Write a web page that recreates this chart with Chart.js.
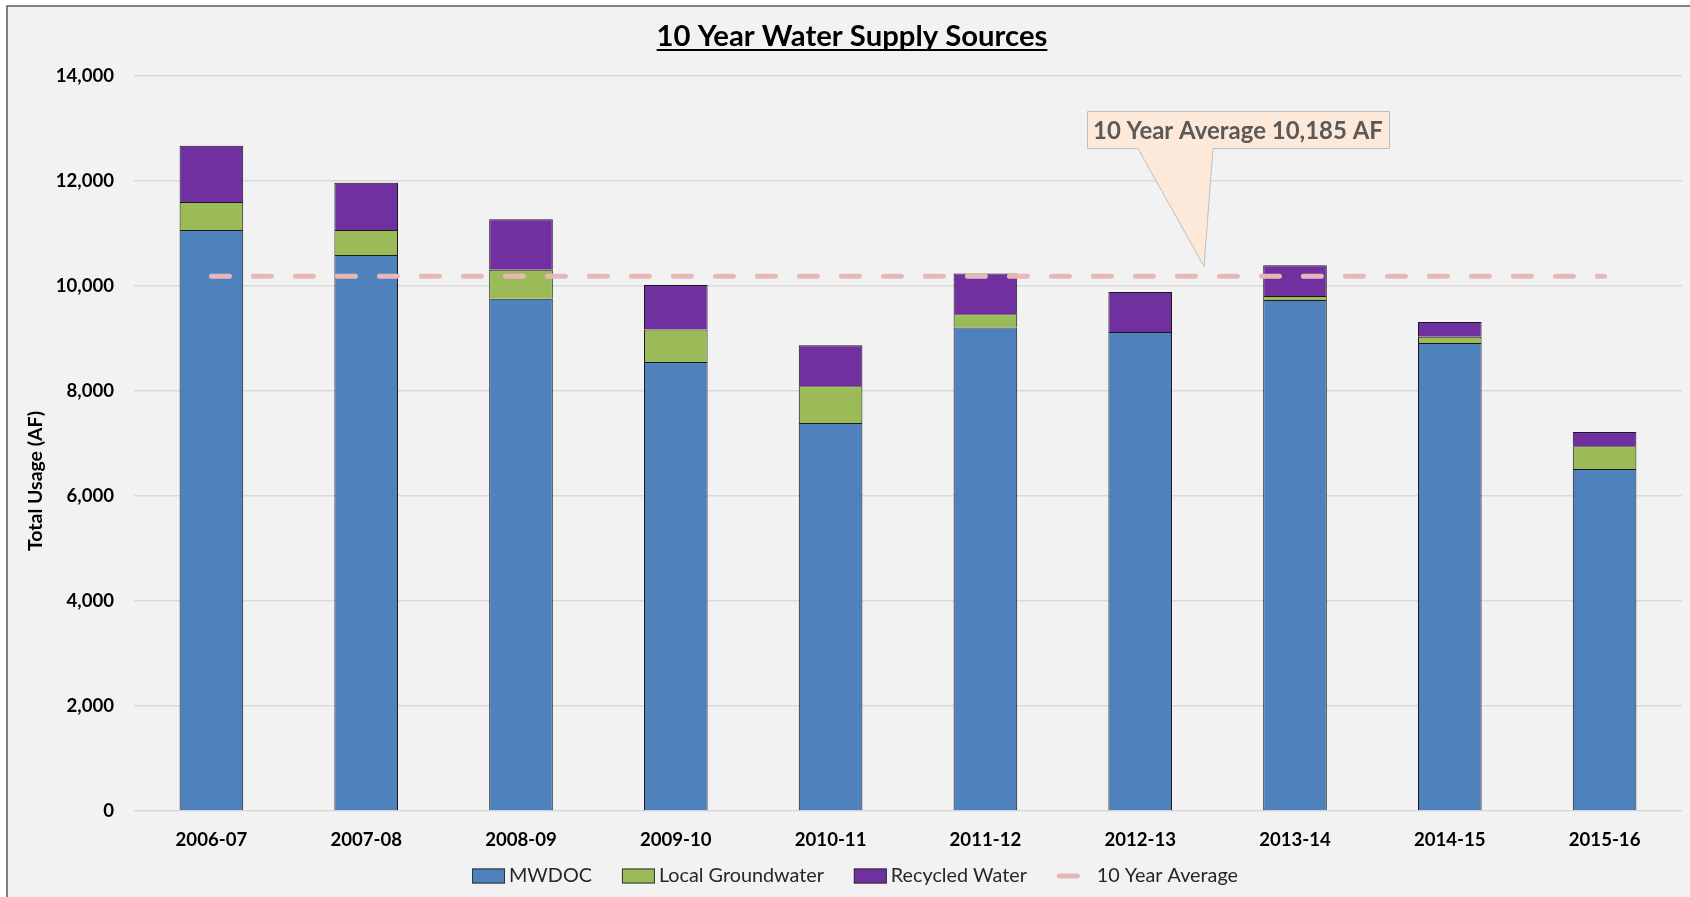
<!DOCTYPE html>
<html>
<head>
<meta charset="utf-8">
<script src="https://cdn.jsdelivr.net/npm/chart.js@4.4.0/dist/chart.umd.min.js"></script>
<style>
html, body { margin: 0; padding: 0; background: #ffffff; }
#wrap { position: absolute; left: 0; top: 0; width: 1690px; height: 897px; }
canvas { display: block; }
</style>
</head>
<body>
<div id="wrap"><canvas id="c" width="1690" height="897"></canvas></div>
<script>
// ---- data ----
const categories = ['2006-07', '2007-08', '2008-09', '2009-10', '2010-11', '2011-12', '2012-13', '2013-14', '2014-15', '2015-16'];
const mwdoc = [11067, 10590, 9757, 8551, 7392, 9209, 9122, 9733, 8914, 6514];
const localGroundwater = [533, 477, 554, 620, 697, 253, 0, 77, 121, 432];
const recycledWater = [1073, 901, 959, 848, 784, 778, 762, 584, 279, 273];
const tenYearAverage = [10185, 10185, 10185, 10185, 10185, 10185, 10185, 10185, 10185, 10185];
const yTickValues = [0, 2000, 4000, 6000, 8000, 10000, 12000, 14000];
const chartTitle = '10 Year Water Supply Sources';
const yAxisTitle = 'Total Usage (AF)';
const calloutText = '10 Year Average 10,185 AF';

const FONT = 'Lato, "Open Sans", "DejaVu Sans", sans-serif';
const COLORS = { mwdoc: '#4F81BD', gw: '#9BBB59', rw: '#7030A0', avg: '#E6B9B8' };

function fitSize(c, text, weight, target) {
  c.font = weight + ' 100px ' + FONT;
  return 100 * target / c.measureText(text).width;
}

const bgPlugin = {
  id: 'bg',
  beforeDraw(chart) {
    const c = chart.ctx;
    c.save();
    c.fillStyle = '#ffffff';
    c.fillRect(0, 0, chart.width, chart.height);
    c.fillStyle = '#F2F2F2';
    c.fillRect(7, 6, chart.width - 7, chart.height - 6);
    c.strokeStyle = '#595959';
    c.lineWidth = 1.5;
    c.beginPath();
    c.moveTo(7, chart.height);
    c.lineTo(7, 6);
    c.lineTo(chart.width, 6);
    c.stroke();
    c.restore();
  }
};

const decorPlugin = {
  id: 'decor',
  afterDraw(chart) {
    const c = chart.ctx;
    c.save();
    // Title
    const ts = fitSize(c, chartTitle, 'bold', 391);
    c.font = 'bold ' + ts + 'px ' + FONT;
    c.fillStyle = '#000000';
    c.textAlign = 'center';
    c.textBaseline = 'alphabetic';
    const tx = 852, ty = 46;
    c.fillText(chartTitle, tx, ty);
    const tw = c.measureText(chartTitle).width;
    c.fillRect(tx - tw / 2, ty + 3, tw, 2);

    // Y axis title
    c.save();
    c.translate(36, 481);
    c.rotate(-Math.PI / 2);
    const ys = fitSize(c, yAxisTitle, 'bold', 140);
    c.font = 'bold ' + ys + 'px ' + FONT;
    c.fillStyle = '#000000';
    c.textAlign = 'center';
    c.textBaseline = 'middle';
    c.fillText(yAxisTitle, 0, 0);
    c.restore();

    // Callout
    c.beginPath();
    c.moveTo(1087.5, 111.5);
    c.lineTo(1389.5, 111.5);
    c.lineTo(1389.5, 148.5);
    c.lineTo(1213, 148.5);
    c.lineTo(1204, 266.5);
    c.lineTo(1138, 148.5);
    c.lineTo(1087.5, 148.5);
    c.closePath();
    c.fillStyle = '#FDE9D9';
    c.fill();
    c.strokeStyle = '#BFBFBF';
    c.lineWidth = 1;
    c.stroke();
    const cs = fitSize(c, calloutText, 'bold', 290);
    c.font = 'bold ' + cs + 'px ' + FONT;
    c.fillStyle = '#595959';
    c.textAlign = 'left';
    c.textBaseline = 'middle';
    c.fillText(calloutText, 1093, 131);

    // Legend
    const items = [
      { label: chart.data.datasets[1].label, type: 'box', color: COLORS.mwdoc },
      { label: chart.data.datasets[2].label, type: 'box', color: COLORS.gw },
      { label: chart.data.datasets[3].label, type: 'box', color: COLORS.rw },
      { label: chart.data.datasets[0].label, type: 'line', color: COLORS.avg }
    ];
    const ls = fitSize(c, items[1].label, 'normal', 165);
    c.font = ls + 'px ' + FONT;
    const boxW = 33, boxGap = 4, lineW = 23, lineGap = 17, itemGap = 30;
    let total = 0;
    items.forEach((it, i) => {
      it.tw = c.measureText(it.label).width;
      it.w = (it.type === 'box' ? boxW + boxGap : lineW + lineGap) + it.tw;
      total += it.w + (i < items.length - 1 ? itemGap : 0);
    });
    let x = 855 - total / 2;
    const ly = 876;
    items.forEach((it) => {
      if (it.type === 'box') {
        c.fillStyle = it.color;
        c.fillRect(x, ly - 7.5, boxW, 15);
        c.strokeStyle = '#333333';
        c.lineWidth = 1;
        c.strokeRect(x + 0.5, ly - 7, boxW - 1, 14);
        x += boxW + boxGap;
      } else {
        c.strokeStyle = it.color;
        c.lineWidth = 5;
        c.lineCap = 'round';
        c.beginPath();
        c.moveTo(x + 2.5, ly);
        c.lineTo(x + lineW - 2.5, ly);
        c.stroke();
        x += lineW + lineGap;
      }
      c.fillStyle = '#262626';
      c.textAlign = 'left';
      c.textBaseline = 'middle';
      c.fillText(it.label, x, ly);
      x += it.tw + itemGap;
    });
    c.restore();
  }
};

const tickFont = { family: FONT, weight: 'bold', size: 18.6 };

new Chart(document.getElementById('c').getContext('2d'), {
  type: 'bar',
  data: {
    labels: categories,
    datasets: [
      {
        type: 'line', label: '10 Year Average', data: tenYearAverage,
        borderColor: COLORS.avg, backgroundColor: COLORS.avg,
        borderWidth: 5, borderDash: [18, 24], borderCapStyle: 'round',
        pointRadius: 0, fill: false, tension: 0, stack: 'avg', order: 0
      },
      { label: 'MWDOC', data: mwdoc, backgroundColor: COLORS.mwdoc, borderColor: '#1a1a1a', borderWidth: 1, stack: 'src', order: 1 },
      { label: 'Local Groundwater', data: localGroundwater, backgroundColor: COLORS.gw, borderColor: '#1a1a1a', borderWidth: 1, stack: 'src', order: 1 },
      { label: 'Recycled Water', data: recycledWater, backgroundColor: COLORS.rw, borderColor: '#1a1a1a', borderWidth: 1, stack: 'src', order: 1 }
    ]
  },
  options: {
    responsive: false,
    animation: false,
    devicePixelRatio: 1,
    layout: { padding: { left: 0, right: 8, top: 76, bottom: 0 } },
    datasets: { bar: { categoryPercentage: 1, barPercentage: 0.411 } },
    plugins: { legend: { display: false }, title: { display: false }, tooltip: { enabled: false } },
    scales: {
      x: {
        stacked: true,
        grid: { display: false },
        border: { display: false },
        ticks: { font: tickFont, color: '#000000', padding: 9.5, maxRotation: 0 },
        afterFit(s) { s.height = 86; }
      },
      y: {
        stacked: true,
        min: 0, max: 14000,
        afterBuildTicks(s) { s.ticks = yTickValues.map(v => ({ value: v })); },
        ticks: { font: tickFont, color: '#000000', padding: 20, callback: v => Number(v).toLocaleString('en-US') },
        grid: { color: '#D9D9D9', lineWidth: 1.5, drawTicks: false },
        border: { display: false },
        afterFit(s) { s.width = 134; }
      }
    }
  },
  plugins: [bgPlugin, decorPlugin]
});
</script>
</body>
</html>
